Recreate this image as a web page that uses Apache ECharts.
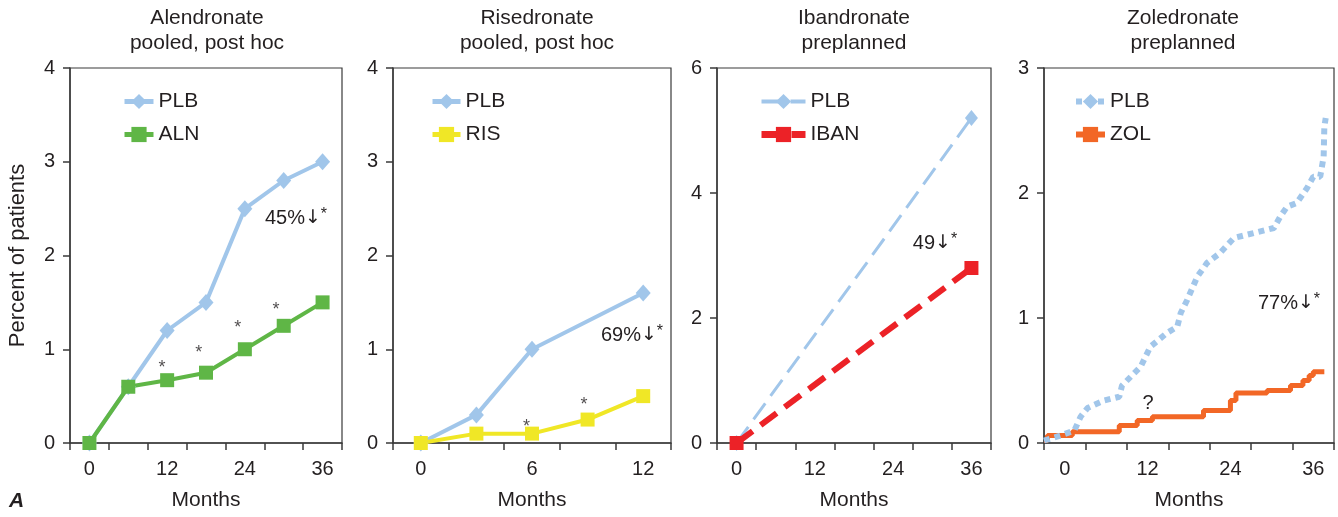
<!DOCTYPE html>
<html>
<head>
<meta charset="utf-8">
<script src="https://cdn.jsdelivr.net/npm/echarts@6/dist/echarts.min.js"></script>
<style>
  html, body { margin: 0; padding: 0; background: #fff; }
  #main { width: 1338px; height: 517px; }
</style>
</head>
<body>
<div id="main"></div>
<script>
// 数据
// Alendronate
var monthsA = [0, 6, 12, 18, 24, 30, 36];
var plbA = [0, 0.6, 1.2, 1.5, 2.5, 2.8, 3.0];
var alnA = [0, 0.6, 0.67, 0.75, 1.0, 1.25, 1.5];
var starAX = [11.2, 16.9, 22.9, 28.8];
var starAY = [0.85, 1.01, 1.28, 1.47];

// Risedronate
var monthsRplb = [0, 3, 6, 12];
var plbR = [0, 0.3, 1.0, 1.6];
var monthsRris = [0, 3, 6, 9, 12];
var risR = [0, 0.1, 0.1, 0.25, 0.5];
var starRX = [5.7, 8.8];
var starRY = [0.22, 0.46];

// Ibandronate
var monthsI = [0, 36];
var plbI = [0, 5.2];
var ibanI = [0, 2.8];

// Zoledronate
var plbZX = [-3, -0.6, 1.4, 2.3, 3.3, 5.7, 7.9, 8.3, 11.0, 12.4, 14.8, 16.3, 16.8, 17.7, 19.2, 20.6, 22.5, 24.5, 27.4, 30.3, 31.2, 32.2, 33.6, 35.1, 36.0, 37.0, 37.5, 37.6, 37.8];
var plbZY = [0.02, 0.06, 0.10, 0.21, 0.28, 0.34, 0.37, 0.46, 0.61, 0.77, 0.88, 0.93, 1.04, 1.14, 1.33, 1.44, 1.52, 1.64, 1.68, 1.72, 1.81, 1.89, 1.92, 2.04, 2.13, 2.13, 2.29, 2.53, 2.6];
var zolX = [-3, -2.5, 1.1, 7.9, 10.5, 12.7, 20.1, 24.0, 24.8, 29.3, 32.7, 34.5, 35.4, 36.0, 37.6];
var zolY = [0.02, 0.06, 0.09, 0.14, 0.18, 0.21, 0.26, 0.34, 0.40, 0.42, 0.46, 0.50, 0.54, 0.57, 0.57];

// 刻度
var ticks36 = [-3, 3, 9, 15, 21, 27, 33, 39];
var labels36 = [0, 12, 24, 36];
var ticks12 = [-1.5, 1.5, 4.5, 7.5, 10.5, 13.5];
var labels12 = [0, 6, 12];

var BLUE = '#a1c6ea';
var GREEN = '#5fb646';
var YELLOW = '#f0e726';
var RED = '#ec2227';
var ORANGE = '#f26726';
var TXT = '#231f20';
var AX = '#3a3a3a';
var FONT = '"Liberation Sans", Arial, sans-serif';

function zip(xs, ys) {
    var out = [];
    for (var i = 0; i < xs.length; i++) out.push([xs[i], ys[i]]);
    return out;
}

function makeX(gi, min, max, ticks, labels) {
    return {
        type: 'value', gridIndex: gi, min: min, max: max,
        name: 'Months', nameLocation: 'middle', nameGap: 47,
        nameTextStyle: { fontSize: 21, color: TXT, fontFamily: FONT },
        axisLine: { onZero: false, lineStyle: { color: AX, width: 1.5 } },
        axisTick: { show: true, length: 7, customValues: ticks, lineStyle: { color: AX, width: 1.5 } },
        axisLabel: { customValues: labels, fontSize: 20, color: TXT, margin: 16, fontFamily: FONT },
        splitLine: { show: false }
    };
}

function makeY(gi, max, interval, name) {
    var ax = {
        type: 'value', gridIndex: gi, min: 0, max: max, interval: interval,
        axisLine: { show: true, onZero: false, lineStyle: { color: AX, width: 1.5 } },
        axisTick: { show: true, length: 7, lineStyle: { color: AX, width: 1.5 } },
        axisLabel: { fontSize: 20, color: TXT, margin: 15, fontFamily: FONT },
        splitLine: { show: false }
    };
    if (name) {
        ax.name = name;
        ax.nameLocation = 'middle';
        ax.nameGap = 41;
        ax.nameTextStyle = { fontSize: 22, color: TXT, fontFamily: FONT };
    }
    return ax;
}

function makeLegend(left, itemWidth, items) {
    return {
        orient: 'vertical', left: left, top: 86,
        itemWidth: itemWidth, itemHeight: 19, itemGap: 12,
        textStyle: { fontSize: 21, color: TXT, fontFamily: FONT },
        formatter: function (n) { return n.replace(/-\d$/, ''); },
        data: items, selectedMode: false
    };
}

function starSeries(xi, data) {
    return {
        type: 'scatter', xAxisIndex: xi, yAxisIndex: xi, data: data,
        symbol: 'circle', symbolSize: 1, itemStyle: { color: 'rgba(0,0,0,0)' },
        silent: true, z: 5,
        label: { show: true, position: 'inside', formatter: '*', fontSize: 18, color: TXT, offset: [0, 5], fontFamily: FONT }
    };
}

function note(x, y, main) {
    return {
        type: 'text', x: x, y: y, z: 100,
        style: {
            text: '{n|' + main + '}{a|↓}{s|*}',
            align: 'center', verticalAlign: 'middle',
            rich: {
                n: { fontSize: 20, fontFamily: FONT, fill: TXT, lineHeight: 22 },
                a: { fontSize: 19, fontFamily: '"DejaVu Sans", sans-serif', fill: TXT, lineHeight: 22 },
                s: { fontSize: 16, fontFamily: FONT, fill: TXT, verticalAlign: 'top', lineHeight: 16 }
            }
        }
    };
}

function title(x, text) {
    return {
        type: 'text', x: x, y: 6,
        style: { text: text, align: 'center', verticalAlign: 'top', font: '21px ' + FONT, fill: TXT, lineHeight: 25 }
    };
}

var option = {
    animation: false,
    backgroundColor: '#fff',
    textStyle: { fontFamily: FONT },
    grid: [
        { left: 70, top: 68, width: 272, height: 375 },
        { left: 393, top: 68, width: 278, height: 375 },
        { left: 717, top: 68, width: 274, height: 375 },
        { left: 1044, top: 68, width: 290, height: 375 }
    ].map(function (g) { g.show = true; g.borderColor = AX; g.borderWidth = 1.2; return g; }),
    xAxis: [
        makeX(0, -3, 39, ticks36, labels36),
        makeX(1, -1.5, 13.5, ticks12, labels12),
        makeX(2, -3, 39, ticks36, labels36),
        makeX(3, -3, 39, ticks36, labels36)
    ],
    yAxis: [
        makeY(0, 4, 1, 'Percent of patients'),
        makeY(1, 4, 1),
        makeY(2, 6, 2),
        makeY(3, 3, 1)
    ],
    legend: [
        makeLegend(117, 29, [{ name: 'PLB-1', lineStyle: { width: 5 } }, { name: 'ALN', lineStyle: { width: 5 } }]),
        makeLegend(425, 28, [{ name: 'PLB-2', lineStyle: { width: 5 } }, { name: 'RIS', lineStyle: { width: 5 } }]),
        makeLegend(753, 44, [{ name: 'PLB-3', lineStyle: { width: 4 } }, { name: 'IBAN', lineStyle: { width: 7 } }]),
        makeLegend(1068, 29, [{ name: 'PLB-4', lineStyle: { width: 6 } }, { name: 'ZOL', lineStyle: { width: 6 } }])
    ],
    graphic: [
        title(207, 'Alendronate\npooled, post hoc'),
        title(537, 'Risedronate\npooled, post hoc'),
        title(854, 'Ibandronate\npreplanned'),
        title(1183, 'Zoledronate\npreplanned'),
        note(296, 218, '45%'),
        note(632, 335, '69%'),
        note(935, 243, '49'),
        note(1289, 303, '77%'),
        { type: 'text', x: 1148, y: 403, style: { text: '?', align: 'center', verticalAlign: 'middle', font: '20px ' + FONT, fill: TXT } },
        { type: 'text', x: 9, y: 491, style: { text: 'A', align: 'left', verticalAlign: 'top', font: 'italic bold 21px ' + FONT, fill: TXT } }
    ],
    series: [
        {
            name: 'PLB-1', type: 'line', xAxisIndex: 0, yAxisIndex: 0, data: zip(monthsA, plbA),
            symbol: 'diamond', symbolSize: [15, 17], color: BLUE, lineStyle: { width: 4, color: BLUE }
        },
        {
            name: 'ALN', type: 'line', xAxisIndex: 0, yAxisIndex: 0, data: zip(monthsA, alnA),
            symbol: 'rect', symbolSize: 14, color: GREEN, lineStyle: { width: 4, color: GREEN }
        },
        starSeries(0, zip(starAX, starAY)),
        {
            name: 'PLB-2', type: 'line', xAxisIndex: 1, yAxisIndex: 1, data: zip(monthsRplb, plbR),
            symbol: 'diamond', symbolSize: [15, 17], color: BLUE, lineStyle: { width: 4, color: BLUE }
        },
        {
            name: 'RIS', type: 'line', xAxisIndex: 1, yAxisIndex: 1, data: zip(monthsRris, risR),
            symbol: 'rect', symbolSize: 14, color: YELLOW, lineStyle: { width: 4, color: YELLOW }
        },
        starSeries(1, zip(starRX, starRY)),
        {
            name: 'PLB-3', type: 'line', xAxisIndex: 2, yAxisIndex: 2, data: zip(monthsI, plbI),
            symbol: 'diamond', symbolSize: [13, 16], color: BLUE, lineStyle: { width: 3, color: BLUE, type: [20, 9] }
        },
        {
            name: 'IBAN', type: 'line', xAxisIndex: 2, yAxisIndex: 2, data: zip(monthsI, ibanI),
            symbol: 'rect', symbolSize: 14, color: RED, lineStyle: { width: 6, color: RED, type: [20, 10] }
        },
        {
            name: 'ZOL', type: 'line', xAxisIndex: 3, yAxisIndex: 3, data: zip(zolX, zolY),
            step: 'end', symbol: 'rect', showSymbol: false, color: ORANGE, lineStyle: { width: 5, color: ORANGE }
        },
        {
            name: 'PLB-4', type: 'line', xAxisIndex: 3, yAxisIndex: 3, data: zip(plbZX, plbZY),
            symbol: 'diamond', showSymbol: false, color: BLUE, lineStyle: { width: 6, color: BLUE, type: [6, 5], cap: 'butt' }
        }
    ]
};

var chart = echarts.init(document.getElementById('main'));
chart.setOption(option);
</script>
</body>
</html>
